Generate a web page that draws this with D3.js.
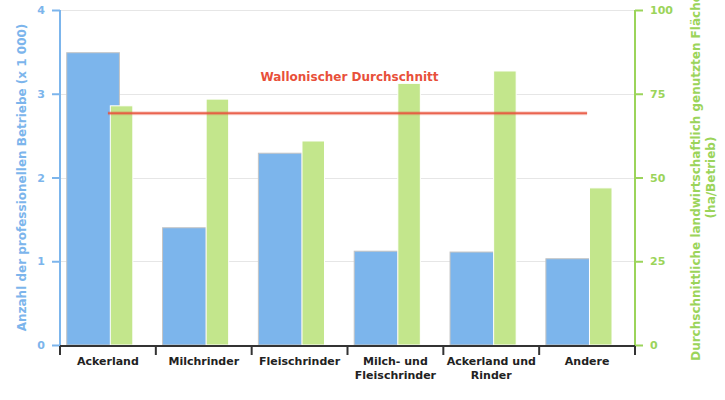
<!DOCTYPE html>
<html>
<head>
<meta charset="utf-8">
<script src="https://cdn.jsdelivr.net/npm/d3@7"></script>
<style>
  html, body { margin: 0; padding: 0; background: #fff; }
  svg { display: block; font-family: "DejaVu Sans", sans-serif; }
</style>
</head>
<body>
<div id="chart"></div>
<script>
// data
const categories = ["Ackerland", "Milchrinder", "Fleischrinder", "Milch- und Fleischrinder", "Ackerland und Rinder", "Andere"];
const categoryLines = [["Ackerland"], ["Milchrinder"], ["Fleischrinder"], ["Milch- und", "Fleischrinder"], ["Ackerland und", "Rinder"], ["Andere"]];
const betriebe = [3.49, 1.40, 2.29, 1.12, 1.11, 1.03];      // x 1 000
const flaeche = [71.4, 73.4, 60.9, 78.1, 81.8, 46.9];       // ha/Betrieb
const wallonAvg = 69.2;
const leftTicks = [0, 1, 2, 3, 4];
const rightTicks = [0, 25, 50, 75, 100];
const highlighted = "Ackerland"; // bar shown in hover state

const width = 725, height = 400;
const margin = { top: 10, right: 90, bottom: 55, left: 60 };
const blue = "#7cb5ec", green = "#c3e68c", greenAxis = "#9bd45a", red = "#e8503a";

const svg = d3.select("#chart").append("svg")
  .attr("width", width)
  .attr("height", height);

const x = d3.scaleBand()
  .domain(categories)
  .range([margin.left, width - margin.right]);

const yL = d3.scaleLinear().domain([0, 4]).range([height - margin.bottom, margin.top]);
const yR = d3.scaleLinear().domain([0, 100]).range([height - margin.bottom, margin.top]);

// grid
svg.append("g")
  .selectAll("line")
  .data(leftTicks)
  .join("line")
  .attr("x1", margin.left)
  .attr("x2", width - margin.right)
  .attr("y1", d => Math.round(yL(d)) + 0.5)
  .attr("y2", d => Math.round(yL(d)) + 0.5)
  .attr("stroke", "#e6e6e6");

const bw = x.bandwidth();

// blue bars
svg.append("g")
  .selectAll("rect")
  .data(categories)
  .join("rect")
  .attr("x", d => x(d) + bw * 0.07)
  .attr("width", d => bw * (d === highlighted ? 0.55 : 0.455))
  .attr("y", (d, i) => yL(betriebe[i]))
  .attr("height", (d, i) => yL(0) - yL(betriebe[i]))
  .attr("fill", blue)
  .attr("stroke", "#c4c4c4")
  .attr("stroke-width", 1);

// green bars
svg.append("g")
  .selectAll("rect")
  .data(categories)
  .join("rect")
  .attr("x", d => x(d) + bw * 0.525)
  .attr("width", bw * 0.235)
  .attr("y", (d, i) => yR(flaeche[i]))
  .attr("height", (d, i) => yR(0) - yR(flaeche[i]))
  .attr("fill", green)
  .attr("stroke", "#fff")
  .attr("stroke-width", 1);

// Wallonian average line
const x1 = x(categories[0]) + bw / 2, x2 = x(categories[categories.length - 1]) + bw / 2;
svg.append("line")
  .attr("x1", x1).attr("x2", x2)
  .attr("y1", yR(wallonAvg)).attr("y2", yR(wallonAvg))
  .attr("stroke", red).attr("stroke-width", 4).attr("stroke-opacity", 0.25);
svg.append("line")
  .attr("x1", x1).attr("x2", x2)
  .attr("y1", yR(wallonAvg)).attr("y2", yR(wallonAvg))
  .attr("stroke", red).attr("stroke-width", 2).attr("stroke-opacity", 0.85);
svg.append("text")
  .attr("x", (x1 + x2) / 2 + 2)
  .attr("y", 81)
  .attr("text-anchor", "middle")
  .attr("font-size", 12)
  .attr("font-weight", "bold")
  .attr("fill", red)
  .text("Wallonischer Durchschnitt");

// left axis
const gL = svg.append("g")
  .attr("transform", `translate(${margin.left},0)`)
  .call(d3.axisLeft(yL).tickValues(leftTicks).tickSize(8).tickPadding(7).tickFormat(d3.format("d")));
gL.select(".domain").attr("stroke", blue).attr("stroke-width", 2).attr("d", `M0,${yL(4)}V${yL(0)}`);
gL.selectAll(".tick line").attr("stroke", blue).attr("stroke-width", 2);
gL.selectAll(".tick text").attr("fill", blue).attr("font-size", 11).attr("font-weight", "bold")
  .attr("font-family", "DejaVu Sans");

svg.append("text")
  .attr("transform", `translate(26,${(yL(0) + yL(4)) / 2}) rotate(-90)`)
  .attr("text-anchor", "middle")
  .attr("font-size", 12)
  .attr("font-weight", "bold")
  .attr("fill", blue)
  .text("Anzahl der professionellen Betriebe (x 1 000)");

// right axis
const gR = svg.append("g")
  .attr("transform", `translate(${width - margin.right},0)`)
  .call(d3.axisRight(yR).tickValues(rightTicks).tickSize(8).tickPadding(7));
gR.select(".domain").attr("stroke", greenAxis).attr("stroke-width", 2).attr("d", `M0,${yR(100)}V${yR(0)}`);
gR.selectAll(".tick line").attr("stroke", greenAxis).attr("stroke-width", 2);
gR.selectAll(".tick text").attr("fill", greenAxis).attr("font-size", 11).attr("font-weight", "bold")
  .attr("font-family", "DejaVu Sans");

const rt = svg.append("text")
  .attr("transform", `translate(700,${(yR(0) + yR(100)) / 2}) rotate(-90)`)
  .attr("text-anchor", "middle")
  .attr("font-size", 12)
  .attr("font-weight", "bold")
  .attr("fill", greenAxis);
rt.append("tspan").attr("x", 0).attr("y", 0).text("Durchschnittliche landwirtschaftlich genutzten Fläche");
rt.append("tspan").attr("x", 0).attr("y", 15).text("(ha/Betrieb)");

// bottom axis
const base = yL(0) + 1;
const gB = svg.append("g");
gB.append("line")
  .attr("x1", margin.left).attr("x2", width - margin.right)
  .attr("y1", base).attr("y2", base)
  .attr("stroke", "#333").attr("stroke-width", 2);
gB.selectAll("line.tick")
  .data(categories.concat([null]))
  .join("line")
  .attr("class", "tick")
  .attr("x1", d => d === null ? width - margin.right : x(d))
  .attr("x2", d => d === null ? width - margin.right : x(d))
  .attr("y1", base).attr("y2", base + 9)
  .attr("stroke", "#333").attr("stroke-width", 2);

const labels = gB.selectAll("text")
  .data(categories)
  .join("text")
  .attr("text-anchor", "middle")
  .attr("font-size", 11)
  .attr("font-weight", "bold")
  .attr("fill", "#222");
labels.each(function(d, i) {
  const t = d3.select(this);
  categoryLines[i].forEach((line, j) => {
    t.append("tspan")
      .attr("x", x(d) + bw / 2)
      .attr("y", base + 19 + j * 14)
      .text(line);
  });
});
</script>
</body>
</html>
